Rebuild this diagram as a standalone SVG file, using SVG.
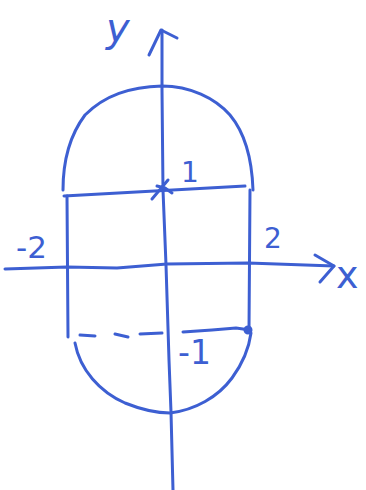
<svg xmlns="http://www.w3.org/2000/svg" width="366" height="490" viewBox="0 0 366 490">
<style>
.ink{fill:none;stroke:#3d5fd2;stroke-width:3;stroke-linecap:round;stroke-linejoin:round}
.lbl{font-family:"DejaVu Sans",sans-serif;fill:#3d5fd2}
</style>
<rect width="366" height="490" fill="#ffffff"/>
<g id="axes" class="ink">
<path id="y-axis" d="M162,30 L162,90 L163,190 L166,265 L169,360 L171,412 L173,490"/>
<path id="y-arrow" d="M149,55 L161,30 L177,38"/>
<path id="x-axis" d="M5,269 L67,267 L117,268 L167,264 L248,263 L334,266"/>
<path id="x-arrow" d="M315,255 L334,266 L320,282"/>
</g>
<g id="shape" class="ink">
<path id="top-arc" d="M63,190 C63,160 70,135 85,115 C105,95 130,87 162,86 C190,86 215,98 230,115 C245,133 252,160 253,190"/>
<line id="top-line" x1="64" y1="196" x2="245" y2="186"/>
<path id="left-side" d="M67,196 L68,337"/>
<path id="right-side" d="M250,190 L249,330"/>
<path id="bottom-line" d="M80,335 L95,336 M115,334 L128,337 M140,334 L162,333 M183,332 L212,330 L236,328 L250,330" />
<circle cx="248" cy="330" r="3" fill="#3d5fd2"/>
<path id="bottom-arc" d="M75,343 C80,370 100,392 125,403 C145,411 160,413 170,413 C195,410 218,397 232,378 C243,363 249,348 251,333"/>
<path id="tick" d="M152,199 L168,180 M157,186 L165,188 L172,193"/>
</g>
<g id="labels">
<text class="lbl" x="106" y="42" style="font-size:40px;font-style:italic">y</text>
<text class="lbl" x="336" y="288" style="font-size:38px">x</text>
<text class="lbl" x="181" y="182" style="font-size:28px">1</text>
<text class="lbl" x="16" y="258" style="font-size:31px">-2</text>
<text class="lbl" x="264" y="248" style="font-size:28px">2</text>
<text class="lbl" x="178" y="364" style="font-size:33px">-1</text>
</g>
</svg>
